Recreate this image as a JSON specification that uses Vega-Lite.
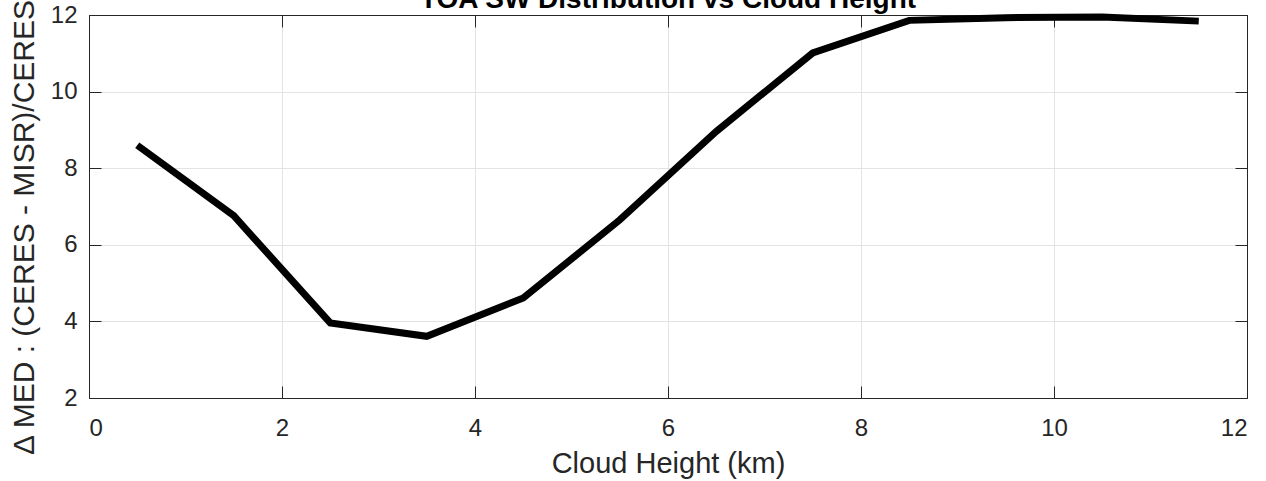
{
  "$schema": "https://vega.github.io/schema/vega-lite/v6.json",
  "width": 1158,
  "height": 383,
  "autosize": {"type": "none"},
  "padding": {"left": 89, "top": 15, "right": 19, "bottom": 83},
  "background": "white",
  "title": {
    "text": "TOA SW Distribution vs Cloud Height",
    "font": "Liberation Sans",
    "fontSize": 28,
    "fontWeight": "bold",
    "color": "#000000",
    "anchor": "middle",
    "baseline": "alphabetic",
    "offset": -37
  },
  "config": {
    "view": {"stroke": "#262626", "strokeWidth": 1},
    "font": "Liberation Sans",
    "axis": {
      "gridColor": "#e3e3e3",
      "gridWidth": 1,
      "domainColor": "#262626",
      "tickColor": "#262626",
      "tickSize": -12,
      "tickWidth": 1,
      "labelColor": "#262626",
      "titleColor": "#262626",
      "labelFont": "Liberation Sans",
      "titleFont": "Liberation Sans",
      "labelFontSize": 24,
      "titleFontSize": 29,
      "titleFontWeight": "normal"
    }
  },
  "data": {
    "values": [
      {"h": 0.5, "d": 8.60},
      {"h": 1.5, "d": 6.76},
      {"h": 2.5, "d": 3.96},
      {"h": 3.5, "d": 3.61},
      {"h": 4.5, "d": 4.61},
      {"h": 5.5, "d": 6.65},
      {"h": 6.5, "d": 8.96},
      {"h": 7.5, "d": 11.01},
      {"h": 8.5, "d": 11.86},
      {"h": 9.5, "d": 11.93},
      {"h": 10.5, "d": 11.95},
      {"h": 11.5, "d": 11.84}
    ]
  },
  "layer": [
    {
      "mark": {"type": "line", "color": "#000000", "strokeWidth": 7, "strokeCap": "butt", "strokeJoin": "miter", "clip": false},
      "encoding": {
        "x": {
          "field": "h", "type": "quantitative",
          "scale": {"domain": [0, 12], "nice": false, "zero": false},
          "axis": {
            "orient": "bottom",
            "values": [0, 2, 4, 6, 8, 10, 12],
            "title": "Cloud Height (km)",
            "labelPadding": 30,
            "titlePadding": 9,
            "grid": true
          }
        },
        "y": {
          "field": "d", "type": "quantitative",
          "scale": {"domain": [2, 12], "nice": false, "zero": false},
          "axis": {
            "orient": "left",
            "values": [2, 4, 6, 8, 10, 12],
            "title": "Δ MED : (CERES - MISR)/CERES",
            "titleFontSize": 30,
            "titleY": 212,
            "labelPadding": 24,
            "titlePadding": 11,
            "grid": true
          }
        }
      }
    },
    {
      "mark": {"type": "line", "opacity": 0},
      "encoding": {
        "x": {
          "field": "h", "type": "quantitative",
          "scale": {"domain": [0, 12], "nice": false, "zero": false},
          "axis": {"orient": "top", "values": [0, 2, 4, 6, 8, 10, 12], "labels": false, "title": null, "grid": false}
        },
        "y": {
          "field": "d", "type": "quantitative",
          "scale": {"domain": [2, 12], "nice": false, "zero": false},
          "axis": {"orient": "right", "values": [2, 4, 6, 8, 10, 12], "labels": false, "title": null, "grid": false}
        }
      }
    }
  ],
  "resolve": {"axis": {"x": "independent", "y": "independent"}}
}
